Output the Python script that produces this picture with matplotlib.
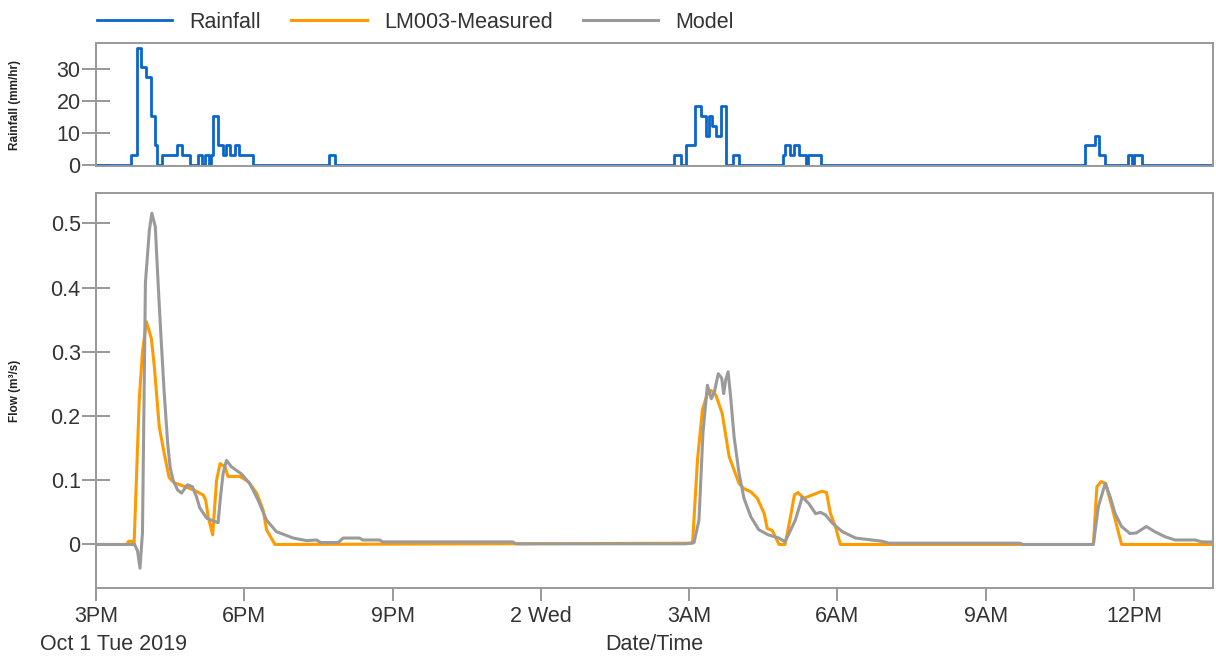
import numpy as np
import matplotlib
matplotlib.use('Agg')
import matplotlib.pyplot as plt
import matplotlib.dates as mdates
from matplotlib.ticker import FuncFormatter

plt.rcParams['font.family'] = ['Liberation Sans', 'DejaVu Sans']

# hours after 2019-10-01 15:00
rain_hours = [0.00, 0.70, 0.82, 0.92, 1.02, 1.12, 1.19, 1.24, 1.33, 1.63, 1.73, 1.91,
              2.07, 2.15, 2.20, 2.28, 2.32, 2.37, 2.47, 2.57, 2.64, 2.71, 2.81, 2.90,
              3.18, 4.71, 4.83, 11.70, 11.83, 11.93, 12.12, 12.24, 12.34, 12.40, 12.47,
              12.54, 12.64, 12.74, 12.88, 13.00, 13.89, 13.95, 14.05, 14.12, 14.22,
              14.36, 14.40, 14.66, 20.01, 20.22, 20.30, 20.42, 20.88, 20.96, 21.00,
              21.16, 22.63]
rain_mmhr = [0, 3.05, 36.6, 30.5, 27.4, 15.25, 6.1, 0, 3.05, 6.1, 3.05, 0,
             3.05, 0, 3.05, 0, 3.05, 15.25, 6.1, 3.05, 6.1, 3.05, 6.1, 3.05,
             0, 3.05, 0, 3.05, 0, 6.1, 18.3, 15.25, 9.15, 15.25, 12.2,
             9.15, 18.3, 0, 3.05, 0, 3.05, 6.1, 3.05, 6.1, 3.05,
             0, 3.05, 0, 6.1, 9.15, 3.05, 0, 3.05, 0, 3.05,
             0, 0]

measured_hours = [0.0, 0.62, 0.66, 0.74, 0.77, 0.875, 0.94, 1.02, 1.12, 1.18, 1.28, 1.38,
                  1.48, 1.58, 1.70, 1.97, 2.17, 2.22, 2.27, 2.36, 2.44, 2.51, 2.61, 2.67,
                  2.91, 3.08, 3.25, 3.38, 3.45, 3.62, 12.07, 12.17, 12.27, 12.37, 12.44,
                  12.54, 12.67, 12.81, 12.91, 13.01, 13.11, 13.25, 13.38, 13.52, 13.58,
                  13.68, 13.82, 13.94, 14.04, 14.13, 14.20, 14.32, 14.49, 14.69, 14.78,
                  14.86, 14.96, 15.06, 20.18, 20.25, 20.34, 20.43, 20.59, 20.75, 22.63]
measured_flow = [0.0, 0.0, 0.005, 0.005, 0.0, 0.225, 0.30, 0.347, 0.321, 0.277, 0.183, 0.142,
                 0.104, 0.096, 0.093, 0.085, 0.077, 0.069, 0.043, 0.015, 0.100, 0.126, 0.121, 0.106,
                 0.106, 0.098, 0.080, 0.054, 0.023, 0.0, 0.002, 0.132, 0.21, 0.235, 0.24,
                 0.233, 0.204, 0.137, 0.116, 0.095, 0.087, 0.082, 0.072, 0.048, 0.025,
                 0.022, 0.0, 0.0, 0.038, 0.077, 0.081, 0.072, 0.077, 0.083, 0.081,
                 0.048, 0.028, 0.0, 0.0, 0.090, 0.098, 0.095, 0.048, 0.0, 0.0]

model_hours = [0.0, 0.78, 0.84, 0.89, 0.94, 1.00, 1.08, 1.13, 1.20, 1.25, 1.31, 1.38,
               1.45, 1.50, 1.56, 1.65, 1.73, 1.85, 1.95, 2.03, 2.10, 2.24, 2.36, 2.47,
               2.52, 2.57, 2.64, 2.74, 2.94, 3.11, 3.28, 3.45, 3.65, 3.99, 4.26, 4.46,
               4.55, 4.90, 5.00, 5.33, 5.40, 5.74, 5.80, 8.43, 8.50, 11.93, 12.10, 12.20,
               12.28, 12.37, 12.45, 12.51, 12.59, 12.66, 12.70, 12.74, 12.79, 12.84,
               12.91, 13.01, 13.11, 13.25, 13.41, 13.60, 13.82, 13.94, 14.15, 14.29,
               14.42, 14.56, 14.66, 14.76, 14.90, 15.10, 15.37, 15.91, 16.04, 18.70,
               18.75, 20.18, 20.28, 20.42, 20.52, 20.62, 20.75, 20.92, 21.05, 21.25,
               21.42, 21.63, 21.83, 22.24, 22.37, 22.63]
model_flow = [0.0, 0.0, -0.01, -0.037, 0.018, 0.408, 0.49, 0.516, 0.495, 0.417, 0.33, 0.236,
              0.158, 0.12, 0.10, 0.085, 0.080, 0.093, 0.090, 0.075, 0.057, 0.041, 0.037, 0.034,
              0.075, 0.110, 0.131, 0.121, 0.110, 0.095, 0.069, 0.038, 0.020, 0.010, 0.006, 0.007,
              0.003, 0.003, 0.010, 0.010, 0.007, 0.007, 0.004, 0.004, 0.001, 0.001, 0.003, 0.038,
              0.173, 0.248, 0.227, 0.237, 0.266, 0.259, 0.235, 0.256, 0.269, 0.23,
              0.168, 0.111, 0.072, 0.043, 0.023, 0.015, 0.010, 0.004, 0.038, 0.074,
              0.064, 0.048, 0.050, 0.046, 0.033, 0.020, 0.010, 0.005, 0.002, 0.002,
              0.0, 0.0, 0.059, 0.095, 0.074, 0.048, 0.028, 0.017, 0.018, 0.028,
              0.020, 0.012, 0.007, 0.007, 0.004, 0.004]

start = np.datetime64('2019-10-01T15:00')


def to_time(hours):
    secs = np.round(np.array(hours) * 3600).astype(int)
    return start + secs.astype('timedelta64[s]')


def time_label(x, pos):
    d = mdates.num2date(x)
    if d.hour == 0:
        return '%d %s' % (d.day, d.strftime('%a'))
    h = d.hour % 12 or 12
    return '%d%s' % (h, 'AM' if d.hour < 12 else 'PM')


W, H = 1216, 660
fig = plt.figure(figsize=(W / 100, H / 100), dpi=100)
ax1 = fig.add_axes([96 / W, 1 - 166 / H, 1117 / W, 123 / H])
ax2 = fig.add_axes([96 / W, 1 - 588 / H, 1117 / W, 395 / H], sharex=ax1)

blue = '#0a66c8'
orange = '#ff9a00'
grey = '#9a9a9a'
edge = '#999999'
txt = '#333333'
fs = 15.5

l1, = ax1.plot(to_time(rain_hours), rain_mmhr, color=blue, lw=2.0, drawstyle='steps-post',
               label='Rainfall')
l2, = ax2.plot(to_time(measured_hours), measured_flow, color=orange, lw=2.2,
               label='LM003-Measured')
l3, = ax2.plot(to_time(model_hours), model_flow, color=grey, lw=2.2, label='Model')

ax1.set_ylim(-0.3, 38.1)
ax1.set_yticks([0, 10, 20, 30])
ax2.set_ylim(-0.0678, 0.5475)
ax2.set_yticks([0, 0.1, 0.2, 0.3, 0.4, 0.5])
ax2.yaxis.set_major_formatter(FuncFormatter(lambda v, p: '%g' % round(v, 2)))
ax2.set_xlim(to_time([0.0])[0], to_time([22.6])[0])

ax2.xaxis.set_major_locator(mdates.HourLocator(byhour=range(0, 24, 3)))
ax2.xaxis.set_major_formatter(FuncFormatter(time_label))

for ax in (ax1, ax2):
    for s in ax.spines.values():
        s.set_color(edge)
        s.set_linewidth(1.4)
    ax.tick_params(axis='y', direction='inout', length=20, width=1.4, color=edge,
                   labelcolor=txt, labelsize=fs, pad=1)
ax1.tick_params(axis='x', bottom=False, labelbottom=False)
ax2.tick_params(axis='x', direction='out', length=9, width=1.4, color=edge,
                labelcolor=txt, labelsize=fs, pad=4)

ax1.set_ylabel('Rainfall (mm/hr)', fontsize=8.5, fontweight='bold', color='#222222')
ax1.yaxis.set_label_coords(-75 / 1117, 0.5)
ax2.set_ylabel('Flow (m³/s)', fontsize=8.5, fontweight='bold', color='#222222')
ax2.yaxis.set_label_coords(-75 / 1117, 0.5)

ax2.set_xlabel('Date/Time', fontsize=fs, color=txt, va='center')
ax2.xaxis.set_label_coords(0.5, -(645 - 588) / 395)
fig.text(40 / W, 1 - 645 / H, 'Oct 1 Tue 2019', fontsize=fs, color=txt,
         ha='left', va='center')

fig.legend([l1, l2, l3], ['Rainfall', 'LM003-Measured', 'Model'], loc='center left',
           bbox_to_anchor=(97 / W, 1 - 22 / H), ncol=3, frameon=False, fontsize=fs,
           handlelength=3.5, handletextpad=0.8, columnspacing=1.4, borderpad=0,
           borderaxespad=0, labelcolor=txt)

fig.savefig('out.png', dpi=100)
